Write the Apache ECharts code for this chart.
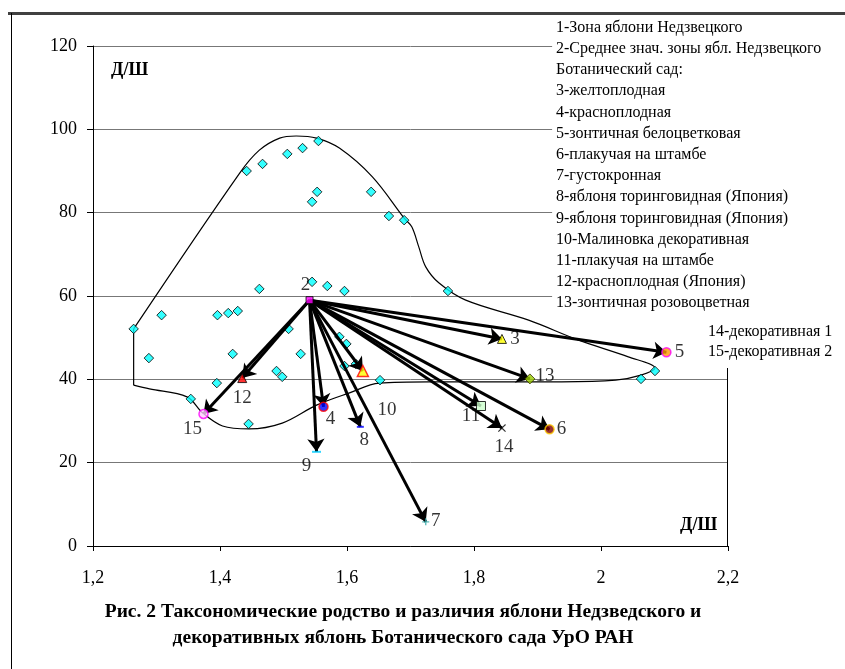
<!DOCTYPE html>
<html><head><meta charset="utf-8">
<script src="https://cdn.jsdelivr.net/npm/echarts@6/dist/echarts.min.js"></script>
<style>html,body{margin:0;padding:0;background:#fff}#c{width:845px;height:669px}</style>
</head><body><div id="c"></div><script>
// ---- data ----
const zoneX = [1.264,1.288,1.308,1.354,1.395,1.396,1.413,1.428,1.420,1.445,1.442,1.462,1.467,1.489,1.498,1.506,1.508,1.530,1.527,1.555,1.545,1.553,1.545,1.569,1.596,1.638,1.666,1.690,1.588,1.599,1.614,1.596,1.652,1.759,2.085,2.063];
const zoneY = [52.1,45.1,55.4,35.3,39.1,55.4,55.9,56.4,46.1,29.3,90.0,61.7,91.7,42.0,40.6,94.1,52.1,95.5,46.1,97.2,82.6,85.0,63.4,62.4,61.2,85.0,79.2,78.2,50.2,48.5,43.7,43.2,39.8,61.2,42.0,40.1];
const contourX = [1.264,1.431,1.462,1.494,1.520,1.552,1.588,1.640,1.690,1.702,1.713,1.724,1.745,1.787,1.886,1.965,2.043,2.085,2.063,2.023,1.938,1.729,1.651,1.603,1.552,1.498,1.446,1.404,1.373,1.348,1.289,1.264];
const contourY = [52.1,89.5,95.0,97.9,98.4,97.9,95.5,88.6,78.7,76.6,71.8,67.0,63.1,59.0,54.2,49.4,45.4,42.7,41.0,39.8,39.4,39.4,39.1,36.7,33.8,29.5,28.1,28.8,31.9,35.8,37.7,38.6];
const zoneLabel = {name: '1', x: 1.478, y: 73.2};
const centerPoint = {name: '2', x: 1.541, y: 59.0};
const pointNames = ['3','4','5','6','7','8','9','10','11','12','13','14','15'];
const pointX = [1.844,1.563,2.103,1.919,1.724,1.621,1.552,1.625,1.811,1.435,1.888,1.844,1.374];
const pointY = [49.7,33.4,46.5,28.0,5.8,28.6,22.6,42.0,33.6,40.3,40.1,28.3,31.7];
const xTickLabels = ['1,2','1,4','1,6','1,8','2','2,2'];
const legendLines = ['1-Зона яблони Недзвецкого','2-Среднее знач. зоны ябл. Недзвецкого','Ботанический сад:','3-желтоплодная','4-красноплодная','5-зонтичная белоцветковая','6-плакучая на штамбе','7-густокронная','8-яблоня торинговидная (Япония)','9-яблоня торинговидная (Япония)','10-Малиновка декоративная','11-плакучая на штамбе','12-красноплодная (Япония)','13-зонтичная розовоцветная'];
const legendExtra = ['14-декоративная 1','15-декоративная 2'];
const axisName = 'Д/Ш';
const titleText = 'Рис. 2 Таксономические родство и различия яблони Недзведского и\nдекоративных яблонь Ботанического сада УрО РАН';

// ---- layout / styles ----
const legendBox = {x0: 1.923, y0: 42.7, x1: 2.2, y1: 120}; // white legend panel over the plot corner
const PLUS = 'path://M4,0h2v4h4v2h-4v4h-2v-4h-4v-2h4z';
const CROSS = 'path://M0,1L1,0L5,4L9,0L10,1L6,5L10,9L9,10L5,6L1,10L0,9L4,5Z';
const pointStyle = {
  '3': {symbol:'triangle', size:9, color:'#FFFF00', border:'#000', bw:1, off:[13,0]},
  '4': {symbol:'circle', size:9, color:'#0000FF', border:'#FF0000', bw:1.5, off:[7,12]},
  '5': {symbol:'circle', size:9, color:'#FF9900', border:'#FF00FF', bw:1.5, off:[13,0]},
  '6': {symbol:'circle', size:9, color:'#800000', border:'#FFCC00', bw:1.5, off:[12,0]},
  '7': {symbol:PLUS, size:7, color:'#33AAAA', border:'#33AAAA', bw:0, off:[10,-1]},
  '8': {symbol:'rect', size:[7,2], color:'#0000FF', border:'#0000FF', bw:0, off:[4,13]},
  '9': {symbol:'rect', size:[9,2], color:'#00CCFF', border:'#00CCFF', bw:0, off:[-10,14]},
  '10': {symbol:'triangle', size:11, color:'#FFFF00', border:'#FF0000', bw:1.5, off:[24,39]},
  '11': {symbol:'rect', size:9, color:'#CCFFCC', border:'#000', bw:1, off:[-10,10]},
  '12': {symbol:'triangle', size:9, color:'#FF0000', border:'#000', bw:1, off:[0,20]},
  '13': {symbol:'diamond', size:10, color:'#99CC00', border:'#333300', bw:1, off:[15,-3]},
  '14': {symbol:CROSS, size:8, color:'#000', border:'#000', bw:0, off:[2,19]},
  '15': {symbol:'circle', size:9, color:'#FFCCFF', border:'#FF00FF', bw:1.5, off:[-11,15]}
};
const labelFont = {fontFamily:'Liberation Serif', fontSize:19, color:'#000'};

const chart = echarts.init(document.getElementById('c'), null, {renderer:'canvas'});

const pointData = pointNames.map((n, i) => {
  const s = pointStyle[n];
  return {
    name: n, value: [pointX[i], pointY[i]],
    symbol: s.symbol, symbolSize: s.size,
    itemStyle: {color: s.color, borderColor: s.border, borderWidth: s.bw},
    label: {show: true, formatter: n, position: 'inside', offset: s.off, ...labelFont}
  };
});

const arrowData = pointX.map((x, i) => ({coords: [[centerPoint.x, centerPoint.y], [x, pointY[i]]]}));

const contour = contourX.map((x, i) => [x, contourY[i]]);
const closing = [contour[contour.length - 1], contour[0]];

const textTitle = (text, left, top, extra) => ({
  text, left, top, z: 20, padding: 0,
  textStyle: Object.assign({fontFamily:'Liberation Serif', fontWeight:'normal', fontSize:16, color:'#000'}, extra || {})
});

chart.setOption({
  animation: false,
  textStyle: {fontFamily: 'Liberation Serif'},
  title: [
    Object.assign(textTitle(titleText, 403, 599, {fontWeight:'bold', fontSize:19.5, lineHeight:26}), {textAlign:'center'}),
    textTitle(legendLines.join('\n'), 556, 17, {lineHeight:21.2}),
    textTitle(legendExtra.join('\n'), 708, 322, {lineHeight:20}),
    textTitle(axisName, 111, 61, {fontWeight:'bold', fontSize:18}),
    textTitle(axisName, 680, 516, {fontWeight:'bold', fontSize:18})
  ],
  grid: {left: 93, right: 117, top: 46, bottom: 123, containLabel: false},
  xAxis: {
    type: 'value', min: 1.2, max: 2.2, interval: 0.2,
    axisLine: {show: true, lineStyle: {color: '#000', width: 1}},
    axisTick: {show: true, length: 5, lineStyle: {color: '#000'}},
    splitLine: {show: false},
    axisLabel: {
      margin: 23, color: '#000', fontSize: 18, fontFamily: 'Liberation Serif',
      formatter: v => xTickLabels[Math.round((v - 1.2) / 0.2)]
    }
  },
  yAxis: [{
    type: 'value', min: 0, max: 120, interval: 20,
    axisLine: {show: true, lineStyle: {color: '#000', width: 1}},
    axisTick: {show: true, length: 6, lineStyle: {color: '#000'}},
    splitLine: {show: true, lineStyle: {color: '#777777', width: 1}},
    axisLabel: {margin: 16, color: '#000', fontSize: 18, fontFamily: 'Liberation Serif'}
  }, {
    type: 'value', min: 0, max: 120, interval: 20, position: 'right', offset: -1,
    axisLine: {show: true, lineStyle: {color: '#000', width: 1}},
    axisTick: {show: false}, axisLabel: {show: false}, splitLine: {show: false}
  }],
  graphic: {elements: [
    {type:'line', shape:{x1:8, y1:13.5, x2:845, y2:13.5}, style:{stroke:'#404040', lineWidth:3}, z:20},
    {type:'line', shape:{x1:11.5, y1:13, x2:11.5, y2:669}, style:{stroke:'#000', lineWidth:1}, z:20}
  ]},
  series: [
    {type:'line', data: [], z: 2, silent: true,
     markArea: {silent: true, itemStyle: {color: '#fff', opacity: 1, borderWidth: 0},
       data: [[{coord: [legendBox.x0, legendBox.y0]}, {coord: [legendBox.x1, legendBox.y1]}]]}},
    {type:'line', data: contour, smooth: 0.35, showSymbol: false, symbol:'none',
     lineStyle:{color:'#000', width:1.2}, z:3, silent:true},
    {type:'line', data: closing, showSymbol: false, symbol:'none',
     lineStyle:{color:'#000', width:1.2}, z:3, silent:true},
    {type:'scatter', data: zoneX.map((x, i) => [x, zoneY[i]]), symbol:'diamond', symbolSize: 9.5,
     itemStyle:{color:'#00FFFF', borderColor:'#000', borderWidth:1}, z:4},
    {type:'lines', coordinateSystem:'cartesian2d', data: arrowData,
     symbol:['none','arrow'], symbolSize:[1,13],
     lineStyle:{color:'#000', width:3, opacity:1, curveness:0}, z:5},
    {type:'scatter', data: pointData, z:6},
    {type:'scatter', data: [{name: centerPoint.name, value:[centerPoint.x, centerPoint.y]}],
     symbol:'rect', symbolSize:7, itemStyle:{color:'#FF00FF', borderColor:'#000', borderWidth:1},
     label:{show:true, formatter:'2', position:'inside', offset:[-4,-15], ...labelFont}, z:7},
    {type:'scatter', data: [{name: zoneLabel.name, value:[zoneLabel.x, zoneLabel.y]}],
     symbol:'none', symbolSize:0,
     label:{show:true, formatter: zoneLabel.name, position:'inside', ...labelFont}, z:7}
  ]
});
</script></body></html>
